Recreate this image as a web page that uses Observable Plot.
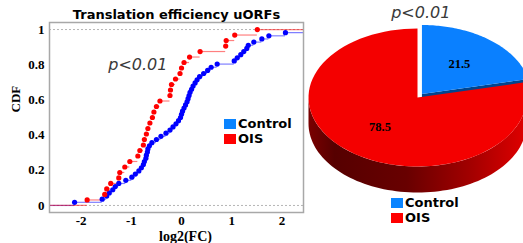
<!DOCTYPE html>
<html><head><meta charset="utf-8">
<script src="https://cdn.jsdelivr.net/npm/d3@7"></script>
<script src="https://cdn.jsdelivr.net/npm/@observablehq/plot@0.6"></script>
<style>
body{margin:0;background:#fff;width:523px;height:243px;overflow:hidden;position:relative}
#cdf{position:absolute;left:0;top:0}
#pie{position:absolute;left:300px;top:0;width:223px;overflow:hidden}
.leg{position:absolute;font:bold 13px "DejaVu Sans",sans-serif;color:#000;line-height:15px;white-space:nowrap}
.sw{display:inline-block;width:12px;height:10px;margin-right:2px;vertical-align:-1px}
</style></head><body>
<svg width="0" height="0" style="position:absolute">
<defs>
<linearGradient id="redSide" x1="0" x2="1" y1="0" y2="0">
<stop offset="0" stop-color="#7a0000"/>
<stop offset="0.12" stop-color="#560000"/>
<stop offset="0.45" stop-color="#680000"/>
<stop offset="0.75" stop-color="#a40000"/>
<stop offset="1" stop-color="#e00000"/>
</linearGradient>
</defs></svg>
<div id="cdf"></div>
<div id="pie"></div>
<div class="leg" id="leg1" style="left:224px;top:116px"></div>
<div class="leg" id="leg2" style="left:391px;top:195px"></div>
<script>
// ---- data ----
const seriesNames = ["Control", "OIS"];
const controlFC = [-2.13, -1.58, -1.49, -1.44, -1.37, -1.32, -1.25, -1.11, -0.99, -0.92,
  -0.85, -0.80, -0.76, -0.74, -0.71, -0.70, -0.68, -0.67, -0.64, -0.59,
  -0.50, -0.41, -0.31, -0.23, -0.17, -0.11, -0.06, -0.02, 0.00, 0.02,
  0.05, 0.08, 0.11, 0.13, 0.15, 0.17, 0.20, 0.23, 0.27, 0.31,
  0.36, 0.44, 0.52, 0.59, 0.71, 1.05, 1.11, 1.18, 1.24, 1.30,
  1.33, 1.44, 1.60, 1.74, 2.07, 2.80];
const oisFC = [-1.88, -1.53, -1.49, -1.41, -1.25, -1.23, -1.13, -1.03, -0.87, -0.83,
  -0.76, -0.74, -0.70, -0.67, -0.63, -0.58, -0.55, -0.50, -0.43, -0.23,
  -0.22, -0.20, -0.12, -0.03, 0.00, 0.05, 0.16, 0.37, 0.88, 0.89,
  1.06, 1.51];
const pieValues = [21.5, 78.5];
const xTicks = [-2, -1, 0, 1, 2];
const yTicks = [0, 0.2, 0.4, 0.6, 0.8, 1];
const titleText = "Translation efficiency uORFs";
const pText = "p<0.01";

// ---- CDF ----
const xDomain = [-2.63, 2.43];
const points = [], steps = [];
[[seriesNames[0], controlFC], [seriesNames[1], oisFC]].forEach(([name, vals]) => {
  const s = vals.slice().sort((a, b) => a - b);
  const n = s.length;
  steps.push({series: name, F: 0, x1: xDomain[0], x2: s[0]});
  s.forEach((v, i) => {
    const F = (i + 1) / n;
    points.push({series: name, v, F});
    steps.push({series: name, F, x1: v, x2: i + 1 < n ? s[i + 1] : xDomain[1] + 1});
  });
});

const serif = "Liberation Serif, Times New Roman, serif";
const cdf = Plot.plot({
  width: 310, height: 243,
  marginLeft: 49, marginRight: 7, marginTop: 22, marginBottom: 31,
  x: {domain: xDomain},
  y: {domain: [-0.04, 1.04]},
  color: {domain: seriesNames, range: ["#0000ff", "#ff0000"]},
  marks: [
    Plot.ruleY([0, 1], {stroke: "#b5b5b5", strokeDasharray: "2,2", strokeWidth: 1}),
    Plot.ruleY(steps, {y: "F", x1: "x1", x2: "x2", stroke: "series", strokeOpacity: 0.5, strokeWidth: 1.2, clip: true}),
    Plot.dot(points, {x: "v", y: "F", r: 2.6, fill: "series", stroke: "none", clip: true}),
    Plot.frame({stroke: "#a8a8a8", strokeWidth: 1.5}),
    Plot.axisX(xTicks, {tickSize: 0, tickPadding: 3, fontFamily: serif, fontWeight: "bold", fontSize: 13, label: null, tickFormat: d => String(d)}),
    Plot.axisY(yTicks, {tickSize: 0, tickPadding: 5, fontFamily: serif, fontWeight: "bold", fontSize: 13, label: null, tickFormat: d => String(d)}),
    Plot.text(["log2(FC)"], {frameAnchor: "bottom", lineAnchor: "top", dx: 9, dy: 19, fontFamily: serif, fontWeight: "bold", fontSize: 14, fill: "#000"}),
    Plot.text(["CDF"], {frameAnchor: "left", rotate: -90, dx: -34, dy: -5, fontFamily: serif, fontWeight: "bold", fontSize: 13, fill: "#000"}),
    Plot.text([titleText], {frameAnchor: "top", lineAnchor: "bottom", dy: -4, fontFamily: "DejaVu Sans", fontWeight: "bold", fontSize: 13, fill: "#000"}),
    Plot.text([pText], {x: -0.87, y: 0.8, fontFamily: "DejaVu Sans", fontStyle: "italic", fontSize: 16, fill: "#3a3a3a"})
  ]
});
document.getElementById("cdf").appendChild(cdf);

// ---- Pie ----
const pieColors = ["#0a80ff", "#f40000"];
const arcs = d3.pie().sort(null)(pieValues);
const depth = 0.377;
const explodeR = [0.065, 0];
function ellPt(a, off, dy = 0) { return {x: off[0] + Math.sin(a), y: off[1] + Math.cos(a) + dy}; }
function slicePoly(a0, a1, off) {
  const pts = [{x: off[0], y: off[1]}];
  const N = 80;
  for (let k = 0; k <= N; k++) pts.push(ellPt(a0 + (a1 - a0) * k / N, off));
  pts.push({x: off[0], y: off[1]});
  return pts;
}
const offs = arcs.map((a, i) => {
  const m = (a.startAngle + a.endAngle) / 2;
  return [explodeR[i] * Math.sin(m), explodeR[i] * Math.cos(m)];
});
// side wall of the front half (visible from 90deg to 270deg)
const sidePts = [];
{
  const a0 = Math.max(Math.PI / 2, arcs[1].startAngle), a1 = 3 * Math.PI / 2, N = 80;
  for (let k = 0; k <= N; k++) sidePts.push(ellPt(a0 + (a1 - a0) * k / N, offs[1]));
  for (let k = N; k >= 0; k--) sidePts.push(ellPt(a0 + (a1 - a0) * k / N, offs[1], -depth));
}
// cut face of the exploded Control slice
const e = arcs[0].endAngle, o = offs[0];
const cutPts = [{x: o[0], y: o[1]}, ellPt(e, o), ellPt(e, o, -depth), {x: o[0], y: o[1] - depth}];
const labelPts = arcs.map((a, i) => {
  const m = (a.startAngle + a.endAngle) / 2;
  return {x: offs[i][0] + 0.55 * Math.sin(m), y: offs[i][1] + 0.55 * Math.cos(m), label: String(pieValues[i])};
});

const pie = Plot.plot({
  width: 223, height: 243, margin: 0,
  x: {domain: [-1, 1], range: [8, 226], axis: null},
  y: {domain: [-1, 1], range: [166, 28], axis: null},
  marks: [
    Plot.line(cutPts, {x: "x", y: "y", fill: "#00458f", stroke: "none"}),
    Plot.line(sidePts, {x: "x", y: "y", fill: "url(#redSide)", stroke: "none"}),
    Plot.line(slicePoly(arcs[1].startAngle, arcs[1].endAngle, offs[1]), {x: "x", y: "y", fill: pieColors[1], stroke: "none"}),
    Plot.line(slicePoly(arcs[0].startAngle, arcs[0].endAngle, offs[0]), {x: "x", y: "y", fill: pieColors[0], stroke: "none"}),
    Plot.text(labelPts, {x: "x", y: "y", text: "label", fontFamily: serif, fontWeight: "bold", fontSize: 12.5, fill: "#000"}),
    Plot.text([pText], {x: 0.03, y: 1.23, fontFamily: "DejaVu Sans", fontStyle: "italic", fontSize: 16, fill: "#3a3a3a"})
  ]
});
document.getElementById("pie").appendChild(pie);

// ---- legends ----
function legend(el, colors) {
  el.innerHTML = seriesNames.map((n, i) =>
    `<div><span class="sw" style="background:${colors[i]}"></span>${n}</div>`).join("");
}
legend(document.getElementById("leg1"), ["#0a84ff", "#ff0000"]);
legend(document.getElementById("leg2"), ["#0a84ff", "#ff0000"]);
</script>
</body></html>
